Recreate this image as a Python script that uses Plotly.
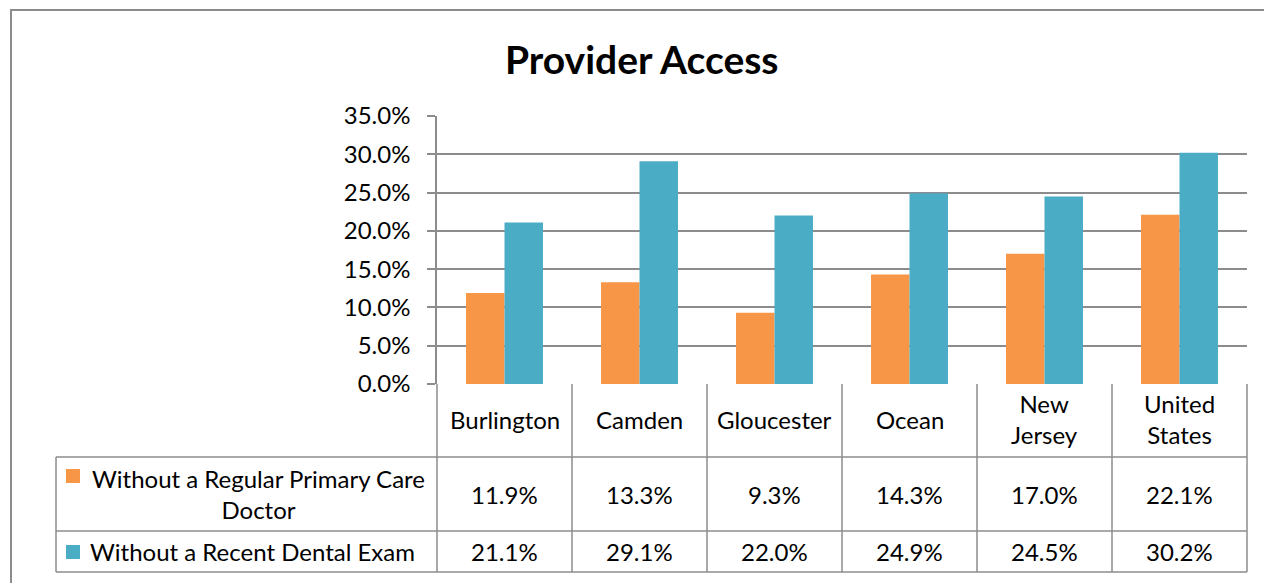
import plotly.graph_objects as go

categories = ["Burlington", "Camden", "Gloucester", "Ocean", "New Jersey", "United States"]
series_names = ["Without a Regular Primary Care Doctor", "Without a Recent Dental Exam"]
no_doctor = [11.9, 13.3, 9.3, 14.3, 17.0, 22.1]
no_dental = [21.1, 29.1, 22.0, 24.9, 24.5, 30.2]
colors = ["#F79646", "#4BACC6"]
y_ticks = [0, 5, 10, 15, 20, 25, 30, 35]

PAGE_W, PAGE_H = 1272, 583
OFF = 8  # default body margin of the page
L, R, T, B = 437, 1247, 116, 384  # plot area in page pixels
FONT = "Lato"
GRID = "#8C8C8C"
FS = 24


def px(x):
    return (x - L) / (R - L)


def py(y):
    return (B - y) / (B - T)


fig = go.Figure()
for name, vals, col in zip(series_names, [no_doctor, no_dental], colors):
    fig.add_trace(go.Bar(x=categories, y=vals, name=name, marker=dict(color=col, line=dict(width=0))))

shapes = []
annotations = []

# outer chart border
shapes.append(dict(type="rect", xref="paper", yref="paper", x0=px(11), x1=px(1320), y0=py(10), y1=py(640),
                   line=dict(color="#8C8C8C", width=2), layer="below"))

# table lines
line = dict(color=GRID, width=1.5)
ncat = len(categories)
colw = (R - L) / ncat
for i in range(ncat + 1):
    x = L + i * colw
    shapes.append(dict(type="line", xref="paper", yref="paper", x0=px(x), x1=px(x), y0=py(B), y1=py(572), line=line))
for y in [457, 531, 572]:
    shapes.append(dict(type="line", xref="paper", yref="paper", x0=px(56), x1=px(R), y0=py(y), y1=py(y), line=line))
shapes.append(dict(type="line", xref="paper", yref="paper", x0=px(56), x1=px(56), y0=py(457), y1=py(572), line=line))

# category headers
for i, c in enumerate(categories):
    annotations.append(dict(xref="paper", yref="paper", x=px(L + (i + 0.5) * colw), y=py(419),
                            text=c.replace(" ", "<br>"), showarrow=False, xanchor="center", yanchor="middle",
                            font=dict(family=FONT, size=FS, color="#000")))

# value rows
row_y = [494, 551]
for vals, yy in zip([no_doctor, no_dental], row_y):
    for i, v in enumerate(vals):
        annotations.append(dict(xref="paper", yref="paper", x=px(L + (i + 0.5) * colw), y=py(yy),
                                text=f"{v:.1f}%", showarrow=False, xanchor="center", yanchor="middle",
                                font=dict(family=FONT, size=FS, color="#000")))

# legend keys and labels
legend_text = ["Without a Regular Primary Care<br>Doctor", "Without a Recent Dental Exam"]
key_y = [476, 552]
label_y = [494, 551]
for txt, col, ky, ly in zip(legend_text, colors, key_y, label_y):
    shapes.append(dict(type="rect", xref="paper", yref="paper", x0=px(66), x1=px(80), y0=py(ky - 7), y1=py(ky + 7),
                       fillcolor=col, line=dict(width=0)))
    if "<br>" in txt:
        annotations.append(dict(xref="paper", yref="paper", x=px(258), y=py(ly), text=txt, showarrow=False,
                                xanchor="center", yanchor="middle", align="center",
                                font=dict(family=FONT, size=FS, color="#000")))
    else:
        annotations.append(dict(xref="paper", yref="paper", x=px(88), y=py(ly), text=txt, showarrow=False,
                                xanchor="left", yanchor="middle",
                                font=dict(family=FONT, size=FS, color="#000")))

# title
annotations.append(dict(xref="paper", yref="paper", x=px(642), y=py(59), text="<b>Provider Access</b>",
                        showarrow=False, xanchor="center", yanchor="middle",
                        font=dict(family=FONT, size=39, color="#000")))

fig.update_layout(
    width=PAGE_W - OFF, height=PAGE_H - OFF,
    margin=dict(l=L - OFF, r=PAGE_W - R, t=T - OFF, b=PAGE_H - B, pad=0),
    paper_bgcolor="white", plot_bgcolor="white",
    showlegend=False,
    barmode="group", bargap=0.43, bargroupgap=0,
    shapes=shapes, annotations=annotations,
    font=dict(family=FONT, color="#000"),
)
fig.update_xaxes(showticklabels=False, showgrid=False, zeroline=False, showline=False, ticks="",
                 range=[-0.5, ncat - 0.5])
fig.update_yaxes(range=[0, 35], tickvals=y_ticks, ticktext=[f"{v:.1f}%" for v in y_ticks],
                 showgrid=True, gridcolor=GRID, gridwidth=1.5, zeroline=False,
                 showline=True, linecolor=GRID, linewidth=1.5, ticks="outside", ticklen=8,
                 tickcolor=GRID, tickwidth=1.5, ticklabelstandoff=12,
                 tickfont=dict(family=FONT, size=FS, color="#000"))
fig.write_html("out.html")
